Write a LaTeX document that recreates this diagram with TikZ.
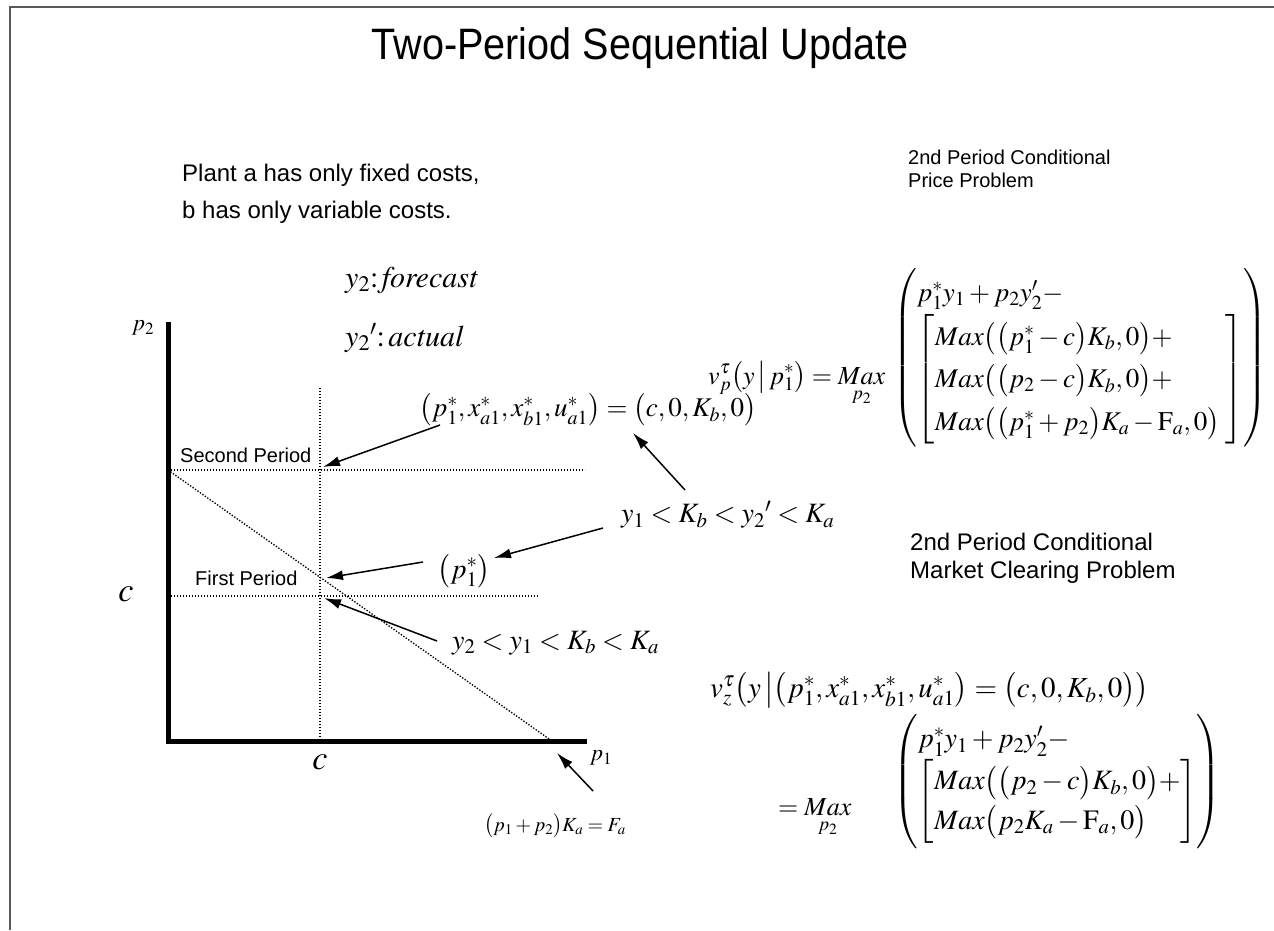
\documentclass[tikz,border=0pt]{standalone}
\usepackage{mathptmx}
\usepackage[no-math]{fontspec}
\setmainfont{Liberation Sans}
\usetikzlibrary{arrows.meta}
\tikzset{
  lbl/.style={inner sep=0pt, font=\fontsize{28}{34}\selectfont},
  smalllbl/.style={inner sep=0pt, font=\fontsize{20}{24}\selectfont},
  eqn/.style={inner sep=0pt, font=\fontsize{28}{33}\selectfont},
  eqlead/.style={inner sep=0pt, font=\fontsize{26}{31}\selectfont},
  txt/.style={inner sep=0pt, font=\fontsize{24}{29}\selectfont},
  arr/.style={line width=1.5pt, -{Latex[length=17pt,width=10pt]}},
  dotln/.style={line width=1.3pt, dash pattern=on 1.4pt off 1.6pt},
  axisln/.style={line width=5pt},
  frameln/.style={line width=2pt, black!65},
}
\begin{document}
\begin{tikzpicture}[x=1pt,y=-1pt]
\useasboundingbox (0,0) rectangle (1274,930);
\draw[frameln] (10,930) -- (10,7) -- (1274,7);

% title
\node[inner sep=0pt, font=\fontsize{44}{52}\selectfont, xscale=0.9] (title) at (640,48) {Two-Period Sequential Update};

% left texts
\node[txt, anchor=west] (plant1) at (182,175) {Plant a has only fixed costs,};
\node[txt, anchor=west] (plant2) at (182,212) {b has only variable costs.};
\node[lbl, anchor=west, font=\fontsize{30}{36}\selectfont] (fc) at (345,280) {$y_2{:}\,\mathit{forecast}$};
\node[lbl, anchor=west, font=\fontsize{30}{36}\selectfont] (ac) at (345,338) {$y_2{}'{:}\,\mathit{actual}$};

% axes
\coordinate (Ytop) at (168,322);
\coordinate (O) at (168,741);
\coordinate (Xend) at (587,741);
\draw[axisln] (Ytop) -- (O) -- (Xend);
\node[inner sep=0pt, font=\fontsize{23}{27}\selectfont] (p2lbl) at (143,328) {$p_2$};
\node[inner sep=0pt, font=\fontsize{23}{27}\selectfont] (p1lbl) at (601,758) {$p_1$};
\node[inner sep=0pt, font=\fontsize{34}{40}\selectfont] (cy) at (126,594) {$c$};
\node[inner sep=0pt, font=\fontsize{34}{40}\selectfont] (cx) at (320,762) {$c$};

% dotted lines
\coordinate (SPl) at (168,470);
\coordinate (SPr) at (585,470);
\coordinate (FPl) at (168,596);
\coordinate (FPr) at (538,596);
\coordinate (Vt) at (320,388);
\coordinate (Vb) at (320,741);
\coordinate (Dend) at (552,741);
\draw[dotln] (SPl) -- (SPr);
\draw[dotln] (FPl) -- (FPr);
\draw[dotln] (Vt) -- (Vb);
\draw[dotln] (SPl) -- (Dend);
\node[smalllbl, anchor=west] (sp) at (180,455) {Second Period};
\node[smalllbl, anchor=west] (fp) at (195,578) {First Period};

% labels
\node[lbl, font=\fontsize{27}{32}\selectfont] (eqA) at (588,410) {$\bigl(p_1^*,x_{a1}^*,x_{b1}^*,u_{a1}^*\bigr)=\bigl(c,0,K_b,0\bigr)$};
\node[lbl, anchor=west] (cond1) at (621,515) {$y_1<K_b<y_2{}'<K_a$};
\node[lbl] (pstar) at (464,571) {$\bigl(p_1^*\bigr)$};
\node[lbl, anchor=west] (cond2) at (452,643) {$y_2<y_1<K_b<K_a$};
\node[smalllbl] (fa) at (555,826) {$\bigl(p_1+p_2\bigr)K_a=F_a$};

% arrows
\coordinate (a1s) at (440,425); \coordinate (a1e) at (323,467);
\coordinate (a2s) at (685,490); \coordinate (a2e) at (633,433);
\coordinate (a3s) at (603,528); \coordinate (a3e) at (494,558);
\coordinate (a4s) at (423,562); \coordinate (a4e) at (326,578);
\coordinate (a5s) at (437,641); \coordinate (a5e) at (324,598);
\coordinate (a6s) at (593,791); \coordinate (a6e) at (557,753);
\draw[arr] (a1s) -- (a1e);
\draw[arr] (a2s) -- (a2e);
\draw[arr] (a3s) -- (a3e);
\draw[arr] (a4s) -- (a4e);
\draw[arr] (a5s) -- (a5e);
\draw[arr] (a6s) -- (a6e);

% right: price problem
\node[anchor=north west, inner sep=0pt, align=left, font=\fontsize{20}{23}\selectfont] (pp) at (908,150) {2nd Period Conditional\\Price Problem};
\node[eqlead, anchor=base west] (vpL) at (708,384) {$\displaystyle v_p^{\tau}\bigl(y\,\big|\,p_1^{*}\bigr)=\mathop{Max}\limits_{p_2}$};
\node[eqn, anchor=west, font=\fontsize{27}{32}\selectfont] (vpM) at (893,358) {$\displaystyle \renewcommand{\arraystretch}{1.33}
\left(\begin{array}{@{}l@{}} p_1^{*}y_1+p_2y_2'-\\
\left[\begin{array}{@{}l@{\;}}
Max\bigl(\bigl(p_1^{*}-c\bigr)K_b,0\bigr)+\\
Max\bigl(\bigl(p_2-c\bigr)K_b,0\bigr)+\\
Max\bigl(\bigl(p_1^{*}+p_2\bigr)K_a-\mathrm{F}_a,0\bigr)
\end{array}\right]\end{array}\right)$};

% right: market clearing problem
\node[anchor=north west, inner sep=0pt, align=left, font=\fontsize{24}{28}\selectfont] (mc) at (910,533) {2nd Period Conditional\\Market Clearing Problem};
\node[eqn, anchor=west, font=\fontsize{29}{34}\selectfont] (vz) at (710,690) {$v_z^{\tau}\bigl(y\,\big|\bigl(p_1^{*},x_{a1}^{*},x_{b1}^{*},u_{a1}^{*}\bigr)=\bigl(c,0,K_b,0\bigr)\bigr)$};
\node[eqlead, anchor=base west] (vzL) at (778,815) {$\displaystyle =\mathop{Max}\limits_{p_2}$};
\node[eqn, anchor=west] (vzM) at (893,782) {$\displaystyle \renewcommand{\arraystretch}{1.2}
\left(\begin{array}{@{}l@{}} p_1^{*}y_1+p_2y_2'-\\
\left[\begin{array}{@{}l@{}}
Max\bigl(\bigl(p_2-c\bigr)K_b,0\bigr)+\\
Max\bigl(p_2K_a-\mathrm{F}_a,0\bigr)
\end{array}\right]\end{array}\right)$};
\end{tikzpicture}
\end{document}
